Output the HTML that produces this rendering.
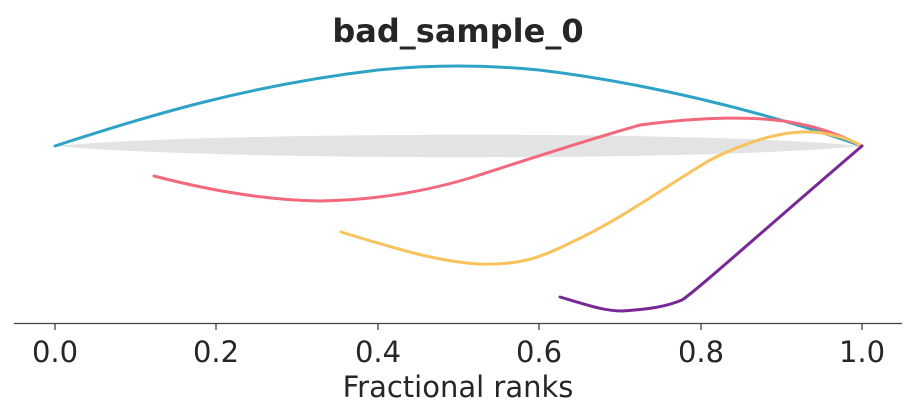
<!DOCTYPE html>
<html><head><meta charset="utf-8"><style>
html,body{margin:0;padding:0;background:#fff;}
svg{display:block;}
text{font-family:"DejaVu Sans","Liberation Sans",sans-serif;fill:#262626;}
</style></head><body>
<svg width="917" height="419" viewBox="0 0 917 419" xmlns="http://www.w3.org/2000/svg">
<text x="458" y="42" font-size="32" font-weight="bold" text-anchor="middle">bad_sample_0</text>
<path d="M55,146 C200,132 700,130 862,146 C700,162 200,160 55,146 Z" fill="#e3e3e3"/>
<g fill="none" stroke-width="3" stroke-linejoin="round" stroke-linecap="round">
<path d="M55,146 C150,115 250,85 378,70 Q458,62 539,70 C640,82 760,110 862,146" stroke="#2ea3c6"/>
<path d="M154,176 C200,188 260,200 320,201 C380,200 430,190 470,178 C520,162 580,142 640,125 C700,117 760,115 800,124 C830,130 850,140 862,146" stroke="#f2697d"/>
<path d="M341,232 C400,250 440,262 480,264 C520,265 540,258 570,243 C620,220 660,190 710,160 C750,140 790,128 822,133 C845,137 855,142 862,146" stroke="#f8c25d"/>
<path d="M560,297 C590,306 605,311 622,311 C650,309 665,307 682,300 C695,292 781,215 862,146" stroke="#7a2796"/>
</g>
<line x1="14" y1="323.5" x2="902" y2="323.5" stroke="#404040" stroke-width="1.3"/>
<g stroke="#404040" stroke-width="1.3">
<line x1="55" y1="323" x2="55" y2="330"/><line x1="216" y1="323" x2="216" y2="330"/>
<line x1="378" y1="323" x2="378" y2="330"/><line x1="539" y1="323" x2="539" y2="330"/>
<line x1="701" y1="323" x2="701" y2="330"/><line x1="862" y1="323" x2="862" y2="330"/>
</g>
<g font-size="29" text-anchor="middle">
<text x="55" y="362">0.0</text><text x="216" y="362">0.2</text><text x="378" y="362">0.4</text>
<text x="539" y="362">0.6</text><text x="701" y="362">0.8</text><text x="862" y="362">1.0</text>
</g>
<text x="458" y="397" font-size="29" text-anchor="middle">Fractional ranks</text>
</svg>
</body></html>
